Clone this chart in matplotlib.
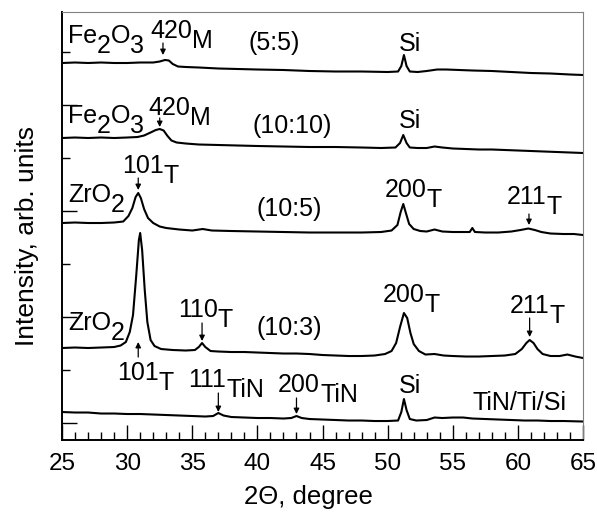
import matplotlib.pyplot as plt
from matplotlib.ticker import MultipleLocator, FixedLocator

plt.rcParams['font.family'] = ['Liberation Sans', 'DejaVu Sans']

# ── XRD patterns: 2-theta (deg) and stacked intensity (arb. units) ───────────

TTH_TIN = [25, 26, 27, 28, 29, 30, 31, 32, 33, 34, 35, 36, 36.6, 37.0, 37.4, 38,
           39, 40, 41, 42, 42.6, 43.0, 43.4, 44, 45, 46, 47, 48, 49, 50, 50.8,
           51.05, 51.25, 51.45, 51.7, 52.2, 53, 53.6, 54.2, 55, 55.8, 56.5, 57.5,
           58.5, 59.5, 60.5, 61.5, 62.5, 63.5, 65]
I_TIN = [28, 27.5, 27.5, 26.5, 26.5, 26, 26, 25.5, 25, 24.5, 24, 23.5, 24, 27, 24.5,
         23, 22.5, 22, 22, 21.5, 22, 24, 22, 21, 20.5, 20, 19.5, 19.5, 19, 19, 19.5,
         28, 41, 30, 21, 19.5, 20, 22.5, 22, 22.5, 22.5, 21.5, 21, 20.5, 20, 19.5,
         19.5, 19, 19, 18.5]

TTH_103 = [25, 26, 27, 28, 29, 29.5, 29.9, 30.2, 30.45, 30.7, 30.9, 31.0, 31.15,
           31.35, 31.55, 31.8, 32.1, 32.6, 33.5, 34.5, 35.2, 35.5, 35.75, 36.0, 36.4,
           37, 38, 39, 40, 41, 42, 43, 44, 45, 46, 47, 48, 49, 49.8, 50.3, 50.65,
           50.95, 51.25, 51.5, 51.75, 52.0, 52.4, 52.9, 53.6, 54.3, 55, 56, 57, 58,
           59, 59.8, 60.3, 60.65, 60.9, 61.2, 61.5, 61.9, 62.5, 63.2, 63.8, 64.4, 65]
I_103 = [92, 92.5, 92, 92.5, 93, 94.5, 98, 108, 125, 165, 200, 207, 190, 150, 118,
         100, 94, 91, 90, 89.5, 90, 93, 97, 93, 89, 88.5, 88, 88, 87.5, 87, 86.5,
         86.5, 86, 85, 84.5, 84, 84, 84.5, 86, 89, 97, 113, 127, 122, 107, 96, 89,
         85.5, 86, 84.5, 84, 83.5, 83.5, 84, 84.5, 86, 91, 97, 100, 97, 91, 86, 84,
         84, 85.5, 83.5, 82]

TTH_105 = [25, 26, 27, 28, 29, 29.7, 30.1, 30.4, 30.65, 30.85, 31.05, 31.3, 31.6,
           32.0, 32.5, 33, 34, 35, 35.8, 36.5, 38, 40, 42, 44, 46, 48, 49.5, 50.3,
           50.75, 51.0, 51.2, 51.4, 51.65, 52.0, 52.5, 53.0, 53.6, 54.2, 55, 56.3,
           56.5, 56.7, 57.5, 58.5, 59.5, 60.2, 60.8, 61.3, 61.8, 62.5, 63.5, 64.3, 65]
I_105 = [217, 217.5, 217, 217, 217.5, 218.5, 224, 232, 243, 247, 242, 231, 222, 217,
         213.5, 212, 210.5, 209.5, 211, 209.5, 209, 208.5, 208, 207.5, 207.5, 207.5,
         208, 209.5, 215, 228, 236, 227, 216, 211, 209, 208.5, 210.5, 208.5, 208, 208,
         212, 208, 207.5, 207.5, 208.5, 210, 211.5, 210, 208, 206.5, 206, 206, 205]

TTH_1010 = [25, 26, 27, 28, 29, 30, 30.8, 31.3, 31.8, 32.2, 32.5, 32.8, 33.1, 33.4,
            33.8, 34.5, 35.5, 37, 38.5, 40, 42, 44, 46, 48, 49.5, 50.6, 50.95, 51.2,
            51.45, 51.7, 52.3, 53.0, 53.6, 54.2, 55, 56, 57, 58, 59, 60, 61, 62, 63,
            64, 65]
I_1010 = [302, 302.5, 302, 302.5, 302, 302.5, 303, 304.5, 307.5, 310, 311, 309.5,
          304, 299.5, 297.5, 296.5, 295.5, 295, 294.5, 294, 293.5, 293, 293, 292.5,
          292, 292.5, 297, 305, 297, 292.5, 292, 292, 293.5, 292.5, 291.5, 291, 290.5,
          290.5, 290, 289.5, 289, 288.5, 288, 287.5, 287]

TTH_55 = [25, 26, 27, 28, 29, 30, 31, 32, 32.5, 32.9, 33.2, 33.5, 33.9, 34.5, 35.5,
          37, 38.5, 40, 42, 44, 46, 48, 50, 50.8, 51.05, 51.25, 51.45, 51.7, 52.3,
          53.0, 53.8, 54.5, 55.5, 56.5, 58, 59.5, 61, 62.5, 64, 65]
I_55 = [377, 377.5, 377, 377.5, 377, 377, 377.5, 377.5, 378.5, 380, 379.5, 376,
        373.5, 373, 372.5, 371.5, 371, 370.5, 370, 369, 368.5, 368.5, 368, 368.5,
        374, 385, 374, 368.5, 368, 369, 370.5, 370.5, 370, 369.5, 369, 368, 367,
        366.5, 365.5, 365]

PATTERNS = [(TTH_TIN, I_TIN), (TTH_103, I_103), (TTH_105, I_105),
            (TTH_1010, I_1010), (TTH_55, I_55)]

# peak labels: (2theta of text start, intensity of baseline, [text, sub, text, sub...])
LABELS = [
    (25.45, 397, ['Fe', '2', 'O', '3']), (31.75, 402, ['420', 'M']),
    (39.35, 390, ['(5:5)']),
    (25.45, 317, ['Fe', '2', 'O', '3']), (31.6, 325, ['420', 'M']),
    (39.6, 307, ['(10:10)']),
    (25.45, 238, ['ZrO', '2']), (29.6, 267, ['101', 'T']), (39.95, 224, ['(10:5)']),
    (49.8, 243, ['200', 'T']), (59.15, 236, ['211', 'T']),
    (25.45, 110, ['ZrO', '2']), (33.9, 123, ['110', 'T']), (39.9, 105, ['(10:3)']),
    (29.2, 60, ['101', 'T']), (49.65, 138, ['200', 'T']), (59.4, 127, ['211', 'T']),
    (34.7, 53, ['111', 'TiN']), (41.6, 48, ['200', 'TiN']),
    (56.55, 30, ['TiN/Ti/Si']),
]
SI_LABELS = [(51.7, 389), (51.7, 312), (51.7, 47)]

# arrows: (2theta, tail intensity, tip intensity)
ARROWS = [(32.75, 397, 385), (32.5, 322, 313), (30.85, 262, 250), (60.85, 226, 215),
          (35.75, 117, 99), (30.85, 83, 98), (60.9, 122, 103), (37.0, 47, 28),
          (43.0, 42, 26)]

FS = 18
SUB_DROP = 7.5   # points

# ── Plot ──────────────────────────────────────────────────────────────────────

fig = plt.figure(figsize=(5.97, 5.15), dpi=100)
ax = fig.add_axes([0.1039, 0.1456, 0.8727, 0.8311])

for tth, inten in PATTERNS:
    ax.plot(tth, inten, color='black', lw=1.5)


def sub_label(x, y, parts):
    prev = ax.text(x, y, parts[0], fontsize=FS, va='baseline', ha='left')
    level = 0.0
    for i, s in enumerate(parts[1:]):
        new_level = -SUB_DROP if i % 2 == 0 else 0.0
        prev = ax.annotate(s, xy=(1, 0), xycoords=prev,
                           xytext=(0, new_level - level), textcoords='offset points',
                           va='bottom', ha='left', fontsize=FS)
        level = new_level


for x, y, parts in LABELS:
    sub_label(x, y, parts)
for x, y in SI_LABELS:
    ax.text(x, y, 'Si', fontsize=FS, va='baseline', ha='center')
for x, y0, y1 in ARROWS:
    ax.annotate('', xy=(x, y1), xytext=(x, y0),
                arrowprops=dict(arrowstyle='-|>', color='black', lw=0.9,
                                mutation_scale=8, shrinkA=0, shrinkB=0))

ax.set_xlim(25, 65)
ax.set_ylim(0, 428)
ax.xaxis.set_major_locator(MultipleLocator(5))
ax.xaxis.set_minor_locator(MultipleLocator(1))
ax.yaxis.set_major_locator(FixedLocator([17, 123, 229, 335]))
ax.yaxis.set_minor_locator(FixedLocator([70, 176, 282, 388]))
ax.tick_params(which='both', direction='in', top=False, right=False, width=1.0)
ax.tick_params(which='major', length=11, labelsize=17.5, pad=9)
ax.tick_params(which='minor', length=6)
ax.tick_params(axis='y', which='both', labelleft=False)

for side in ('left', 'bottom'):
    ax.spines[side].set_linewidth(1.4)
for side in ('top', 'right'):
    ax.spines[side].set_linewidth(0.8)
    ax.spines[side].set_color('#808080')

ax.set_xlabel('2Θ, degree', fontsize=18.5)
ax.set_ylabel('Intensity, arb. units', fontsize=19)
ax.xaxis.set_label_coords(0.472, -0.105)
ax.yaxis.set_label_coords(-0.045, 0.477)

fig.savefig('out.png', dpi=100)
